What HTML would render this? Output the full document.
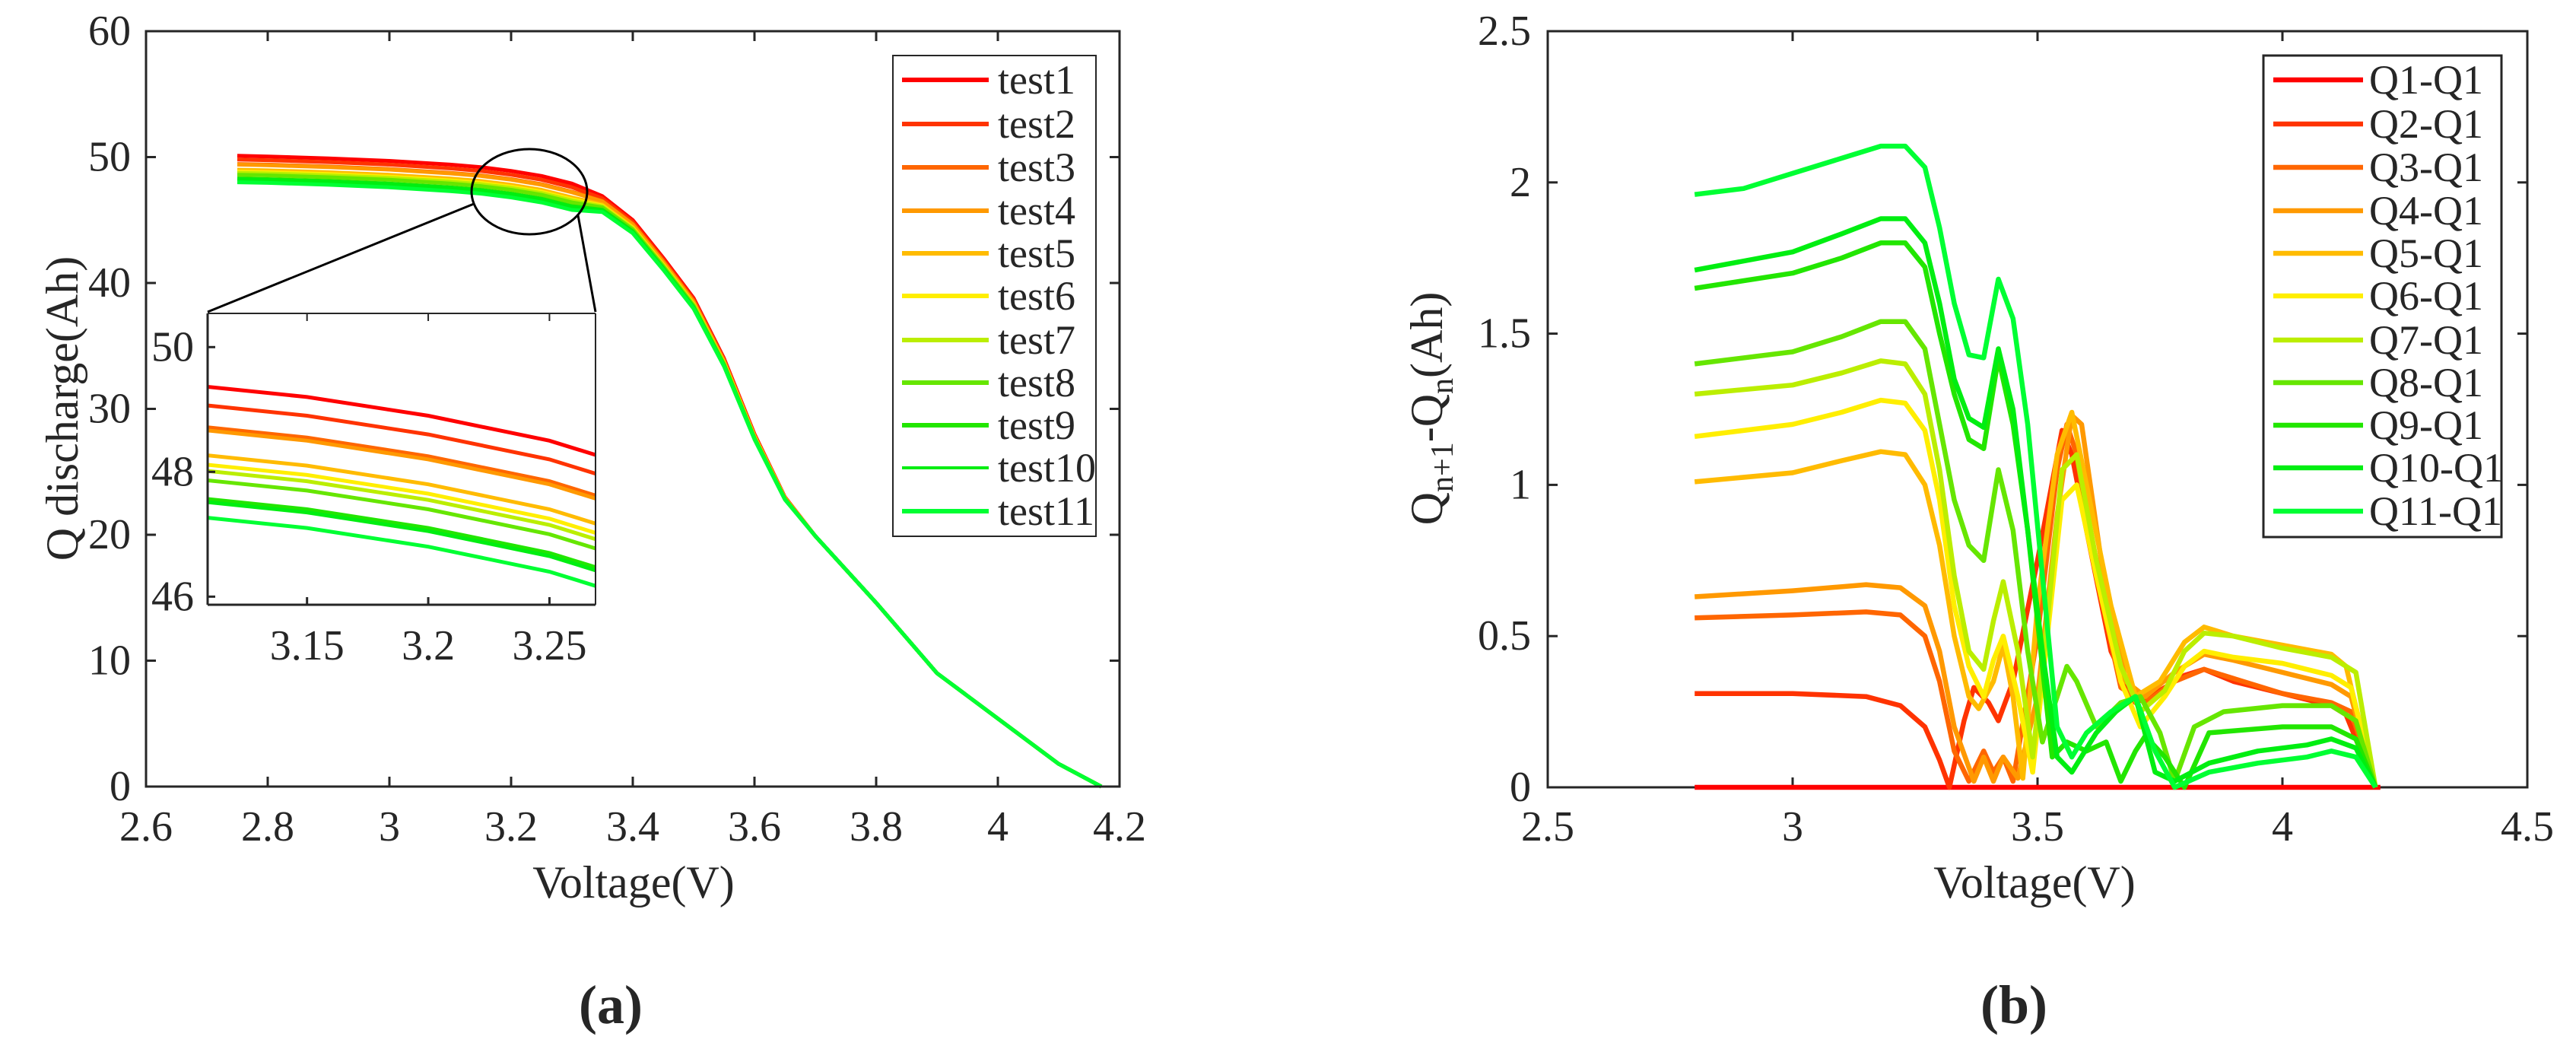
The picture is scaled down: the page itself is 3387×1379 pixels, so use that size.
<!DOCTYPE html>
<html><head><meta charset="utf-8"><style>
html,body{margin:0;padding:0;background:#fff;width:3387px;height:1379px;overflow:hidden}
svg{display:block;overflow:hidden}
text{font-family:"Liberation Serif",serif;fill:#262626}
</style></head><body>
<svg id="fig" width="3387" height="1379" viewBox="0 0 3387 1379"></svg>
<script>
// ---- Chart (a) data ----
const voltA = [2.75,2.8,2.9,3.0,3.1,3.15,3.2,3.25,3.3,3.35,3.4,3.45,3.5,3.55,3.6,3.65,3.7,3.8,3.9,4.0,4.1,4.17];
const test1 = [50.1,50.05,49.9,49.7,49.4,49.2,48.9,48.5,47.9,46.9,45.0,42.0,38.8,34.0,28.0,23.0,19.9,14.6,9.0,5.4,1.8,0];
const test2 = [49.8,49.75,49.6,49.4,49.1,48.9,48.6,48.2,47.6,46.72,44.85,41.87,38.68,33.91,27.94,22.97,19.9,14.6,9.0,5.4,1.8,0];
const test3 = [49.45,49.4,49.25,49.05,48.75,48.55,48.25,47.85,47.25,46.51,44.68,41.71,38.54,33.81,27.87,22.94,19.9,14.6,9.0,5.4,1.8,0];
const test4 = [49.4,49.35,49.2,49.0,48.7,48.5,48.2,47.8,47.2,46.48,44.65,41.69,38.52,33.79,27.86,22.93,19.9,14.6,9.0,5.4,1.8,0];
const test5 = [49.0,48.95,48.8,48.6,48.3,48.1,47.8,47.4,46.8,46.24,44.45,41.51,38.36,33.67,27.78,22.89,19.9,14.6,9.0,5.4,1.8,0];
const test6 = [48.85,48.8,48.65,48.45,48.15,47.95,47.65,47.25,46.65,46.15,44.38,41.44,38.3,33.63,27.75,22.88,19.9,14.6,9.0,5.4,1.8,0];
const test7 = [48.75,48.7,48.55,48.35,48.05,47.85,47.55,47.15,46.55,46.09,44.33,41.39,38.26,33.6,27.73,22.87,19.9,14.6,9.0,5.4,1.8,0];
const test8 = [48.6,48.55,48.4,48.2,47.9,47.7,47.4,47.0,46.4,46.0,44.25,41.33,38.2,33.55,27.7,22.85,19.9,14.6,9.0,5.4,1.8,0];
const test9 = [48.3,48.25,48.1,47.9,47.6,47.4,47.1,46.7,46.1,45.82,44.1,41.19,38.08,33.46,27.64,22.82,19.9,14.6,9.0,5.4,1.8,0];
const test10 = [48.25,48.2,48.05,47.85,47.55,47.35,47.05,46.65,46.05,45.79,44.08,41.17,38.06,33.45,27.63,22.82,19.9,14.6,9.0,5.4,1.8,0];
const test11 = [48.0,47.95,47.8,47.6,47.3,47.1,46.8,46.4,45.8,45.64,43.95,41.06,37.96,33.37,27.58,22.79,19.9,14.6,9.0,5.4,1.8,0];
const namesA = ["test1","test2","test3","test4","test5","test6","test7","test8","test9","test10","test11"];
const xTicksA = [2.6,2.8,3,3.2,3.4,3.6,3.8,4,4.2];
const yTicksA = [0,10,20,30,40,50,60];
const xTicksInset = [3.15,3.2,3.25];
const yTicksInset = [46,48,50];

// ---- Chart (b) data ----
const vQ1 = [2.8,4.2];
const q1 = [0,0];
const vQ2 = [2.8,3.0,3.15,3.22,3.27,3.3,3.32,3.35,3.37,3.4,3.42,3.45,3.5,3.55,3.57,3.6,3.65,3.7,3.75,3.8,3.84,3.9,4.0,4.1,4.13,4.19];
const q2 = [0.31,0.31,0.30,0.27,0.2,0.09,0.0,0.22,0.33,0.28,0.22,0.35,0.75,1.18,1.1,0.85,0.45,0.28,0.32,0.37,0.39,0.35,0.31,0.27,0.24,0];
const vQ3 = [2.8,3.0,3.15,3.22,3.27,3.3,3.33,3.36,3.39,3.41,3.43,3.45,3.5,3.54,3.56,3.58,3.62,3.67,3.72,3.78,3.84,3.9,4.0,4.1,4.14,4.19];
const q3 = [0.56,0.57,0.58,0.57,0.5,0.35,0.12,0.02,0.12,0.05,0.1,0.02,0.5,1.05,1.2,1.1,0.7,0.33,0.28,0.35,0.39,0.36,0.31,0.28,0.25,0];
const vQ4 = [2.8,3.0,3.15,3.22,3.27,3.3,3.33,3.37,3.39,3.41,3.43,3.46,3.5,3.54,3.57,3.59,3.63,3.68,3.72,3.78,3.84,3.9,4.0,4.1,4.14,4.19];
const q4 = [0.63,0.65,0.67,0.66,0.6,0.45,0.2,0.02,0.1,0.02,0.1,0.03,0.3,0.9,1.23,1.2,0.75,0.35,0.3,0.38,0.44,0.42,0.38,0.34,0.3,0];
const vQ5 = [2.8,3.0,3.1,3.18,3.23,3.27,3.3,3.33,3.36,3.38,3.41,3.43,3.45,3.47,3.5,3.54,3.57,3.6,3.65,3.7,3.75,3.8,3.84,3.9,4.0,4.1,4.13,4.19];
const q5 = [1.01,1.04,1.08,1.11,1.1,1.0,0.8,0.5,0.3,0.26,0.35,0.47,0.3,0.03,0.6,1.1,1.24,1.0,0.6,0.3,0.35,0.48,0.53,0.5,0.47,0.44,0.4,0];
const vQ6 = [2.8,3.0,3.1,3.18,3.23,3.27,3.3,3.33,3.36,3.39,3.41,3.43,3.46,3.49,3.52,3.55,3.58,3.62,3.67,3.71,3.76,3.8,3.84,3.9,4.0,4.1,4.14,4.19];
const q6 = [1.16,1.2,1.24,1.28,1.27,1.18,0.95,0.6,0.4,0.3,0.42,0.5,0.3,0.05,0.5,0.95,1.0,0.7,0.35,0.2,0.3,0.4,0.45,0.43,0.41,0.37,0.33,0];
const vQ7 = [2.8,3.0,3.1,3.18,3.23,3.27,3.3,3.33,3.36,3.39,3.41,3.43,3.46,3.49,3.52,3.55,3.58,3.62,3.67,3.71,3.76,3.8,3.84,3.9,4.0,4.1,4.15,4.19];
const q7 = [1.3,1.33,1.37,1.41,1.4,1.3,1.05,0.7,0.45,0.39,0.55,0.68,0.45,0.1,0.55,1.05,1.1,0.75,0.4,0.25,0.32,0.45,0.51,0.5,0.46,0.43,0.38,0];
const vQ8 = [2.8,3.0,3.1,3.18,3.23,3.27,3.3,3.33,3.36,3.39,3.42,3.45,3.48,3.51,3.54,3.56,3.58,3.62,3.67,3.71,3.75,3.78,3.82,3.88,4.0,4.1,4.15,4.19];
const q8 = [1.4,1.44,1.49,1.54,1.54,1.45,1.2,0.95,0.8,0.75,1.05,0.85,0.45,0.15,0.3,0.4,0.35,0.2,0.28,0.3,0.18,0.02,0.2,0.25,0.27,0.27,0.22,0];
const vQ9 = [2.8,3.0,3.1,3.18,3.23,3.27,3.3,3.33,3.36,3.39,3.42,3.45,3.48,3.51,3.53,3.56,3.6,3.64,3.67,3.7,3.72,3.76,3.8,3.85,4.0,4.1,4.15,4.19];
const q9 = [1.65,1.7,1.75,1.8,1.8,1.72,1.5,1.3,1.15,1.12,1.42,1.2,0.85,0.4,0.1,0.15,0.12,0.15,0.02,0.12,0.17,0.1,0.0,0.18,0.2,0.2,0.16,0];
const vQ10 = [2.8,3.0,3.1,3.18,3.23,3.27,3.3,3.33,3.36,3.39,3.42,3.45,3.48,3.51,3.54,3.57,3.62,3.66,3.7,3.74,3.78,3.85,3.95,4.05,4.1,4.15,4.19];
const q10 = [1.71,1.77,1.83,1.88,1.88,1.8,1.6,1.35,1.22,1.19,1.45,1.25,0.85,0.45,0.1,0.05,0.18,0.25,0.3,0.05,0.02,0.08,0.12,0.14,0.16,0.13,0];
const vQ11 = [2.8,2.9,3.0,3.1,3.18,3.23,3.27,3.3,3.33,3.36,3.39,3.42,3.45,3.48,3.51,3.54,3.57,3.6,3.65,3.7,3.74,3.78,3.85,3.95,4.05,4.1,4.15,4.19];
const q11 = [1.96,1.98,2.03,2.08,2.12,2.12,2.05,1.85,1.6,1.43,1.42,1.68,1.55,1.2,0.7,0.2,0.1,0.18,0.25,0.3,0.12,0.0,0.05,0.08,0.1,0.12,0.1,0];
const namesB = ["Q1-Q1","Q2-Q1","Q3-Q1","Q4-Q1","Q5-Q1","Q6-Q1","Q7-Q1","Q8-Q1","Q9-Q1","Q10-Q1","Q11-Q1"];
const xTicksB = [2.5,3,3.5,4,4.5];
const yTicksB = [0,0.5,1,1.5,2,2.5];

const colors = ["#ff0000","#ff3300","#ff6600","#ff9900","#ffbb00","#ffee00","#bbee00","#66e600","#22e600","#00ee11","#00ff33"];

const NS = "http://www.w3.org/2000/svg";
const svg = document.getElementById('fig');
function mk(tag, attrs, parent){const e=document.createElementNS(NS,tag);for(const k in attrs)e.setAttribute(k,attrs[k]);(parent||svg).appendChild(e);return e;}
function lin(d0,d1,r0,r1){return v=>r0+(v-d0)*(r1-r0)/(d1-d0);}
function pts(xs,ys,sx,sy){return xs.map((x,i)=>sx(x).toFixed(1)+","+sy(ys[i]).toFixed(1)).join(" ");}

function axesBox(g,L,T,R,B,sx,sy,xt,yt,tick,fs,xlY,ylX){
  const frame = mk('rect',{x:L,y:T,width:R-L,height:B-T,fill:'none',stroke:'#262626','stroke-width':3},g);
  
  
  xt.forEach(v=>{
    const x=sx(v);
    mk('line',{x1:x,y1:B,x2:x,y2:B-tick,stroke:'#262626','stroke-width':3},g);
    mk('line',{x1:x,y1:T,x2:x,y2:T+tick,stroke:'#262626','stroke-width':3},g);
    const t=mk('text',{x:x,y:xlY,'text-anchor':'middle','font-size':fs},g);
    t.textContent=String(v);
    
    
  });
  yt.forEach(v=>{
    const y=sy(v);
    mk('line',{x1:L,y1:y,x2:L+tick,y2:y,stroke:'#262626','stroke-width':3},g);
    mk('line',{x1:R,y1:y,x2:R-tick,y2:y,stroke:'#262626','stroke-width':3},g);
    const t=mk('text',{x:ylX,y:y+18,'text-anchor':'end','font-size':fs},g);
    t.textContent=String(v);
    
    
  });
}

// ===== Chart (a) =====
const gA = mk('g',{});


const AL=192,AT=41,AR=1472,AB=1034;
const sxA=lin(2.6,4.2,AL,AR), syA=lin(0,60,AB,AT);
const seriesA=[test1,test2,test3,test4,test5,test6,test7,test8,test9,test10,test11];
for(let i=0;i<seriesA.length;i++){
  const p=mk('polyline',{points:pts(voltA,seriesA[i],sxA,syA),fill:'none',stroke:colors[i],'stroke-width':5,'stroke-linejoin':'round'},gA);
  
  
}
axesBox(gA,AL,AT,AR,AB,sxA,syA,xTicksA,yTicksA,13,56,1105,172);
const circ=mk('ellipse',{cx:696,cy:252,rx:76,ry:56,fill:'none',stroke:'#000','stroke-width':3},gA);


mk('line',{x1:623,y1:268,x2:273,y2:410,stroke:'#000','stroke-width':3},gA);
mk('line',{x1:760,y1:283,x2:783,y2:410,stroke:'#000','stroke-width':3},gA);
// inset
const IL=273,IT=412,IR=783,IB=795;
const sxI=lin(3.109,3.269,IL,IR), syI=lin(45.87,50.54,IB,IT);
const gI=mk('g',{},gA);


mk('rect',{x:IL,y:IT,width:IR-IL,height:IB-IT,fill:'#fff'},gI);
mk('clipPath',{id:'clipI'},gI);
mk('rect',{x:IL,y:IT,width:IR-IL,height:IB-IT},document.getElementById('clipI'));
const gIc=mk('g',{'clip-path':'url(#clipI)'},gI);
for(let i=0;i<seriesA.length;i++){
  const p=mk('polyline',{points:pts(voltA,seriesA[i],sxI,syI),fill:'none',stroke:colors[i],'stroke-width':5},gIc);
  
  
}
mk('line',{x1:IL,y1:IT,x2:IL,y2:IB,stroke:'#262626','stroke-width':3},gI);
mk('line',{x1:IL,y1:IB,x2:IR,y2:IB,stroke:'#262626','stroke-width':3},gI);
mk('line',{x1:IL,y1:IT,x2:IR,y2:IT,stroke:'#262626','stroke-width':2},gI);
mk('line',{x1:IR,y1:IT,x2:IR,y2:IB,stroke:'#262626','stroke-width':2},gI);
xTicksInset.forEach(v=>{const x=sxI(v);mk('line',{x1:x,y1:IB,x2:x,y2:IB-10,stroke:'#262626','stroke-width':3},gI);mk('line',{x1:x,y1:IT,x2:x,y2:IT+10,stroke:'#262626','stroke-width':2},gI);
  const t=mk('text',{x:x,y:867,'text-anchor':'middle','font-size':56},gI);t.textContent=String(v);
  
  });
yTicksInset.forEach(v=>{const y=syI(v);mk('line',{x1:IL,y1:y,x2:IL+10,y2:y,stroke:'#262626','stroke-width':3},gI);
  const t=mk('text',{x:255,y:y+18,'text-anchor':'end','font-size':56},gI);t.textContent=String(v);
  
  });
// legend A
const legA=mk('g',{},gA);


mk('rect',{x:1174,y:73,width:267,height:632,fill:'#fff',stroke:'#262626','stroke-width':2},legA);
const rowsY=[105,163,220,277,333,389,447,503,559,615,672];
namesA.forEach((n,i)=>{
  const e=mk('g',{},legA);
  
  
  mk('line',{x1:1186,y1:rowsY[i],x2:1300,y2:rowsY[i],stroke:colors[i],'stroke-width':i==9?4:6},e);
  const t=mk('text',{x:1312,y:rowsY[i]+18,'font-size':54},e);t.textContent=n;
});
let t=mk('text',{x:0,y:0,'text-anchor':'middle','font-size':60,transform:'translate(102,537) rotate(-90)'},gA);
t.textContent='Q discharge(Ah)';


t=mk('text',{x:833,y:1180,'text-anchor':'middle','font-size':60},gA);
t.textContent='Voltage(V)';


t=mk('text',{x:803,y:1345,'text-anchor':'middle','font-size':72,'font-weight':'bold'},gA);
t.textContent='(a)';



// ===== Chart (b) =====
const gB=mk('g',{});


const BL=2035,BT=41,BR=3323,BB=1035;
const sxB=lin(2.5,4.5,BL,BR), syB=lin(0,2.5,BB,BT);
const vB=[vQ1,vQ2,vQ3,vQ4,vQ5,vQ6,vQ7,vQ8,vQ9,vQ10,vQ11];
const qB=[q1,q2,q3,q4,q5,q6,q7,q8,q9,q10,q11];
axesBox(gB,BL,BT,BR,BB,sxB,syB,xTicksB,yTicksB,13,56,1105,2013);
for(let i=0;i<qB.length;i++){
  const p=mk('polyline',{points:pts(vB[i],qB[i],sxB,syB),fill:'none',stroke:colors[i],'stroke-width':6.5,'stroke-linejoin':'round'},gB);
  
  
}
const legB=mk('g',{},gB);


mk('rect',{x:2976,y:73,width:313,height:633,fill:'#fff',stroke:'#262626','stroke-width':3},legB);
namesB.forEach((n,i)=>{
  const e=mk('g',{},legB);
  
  
  mk('line',{x1:2989,y1:rowsY[i],x2:3107,y2:rowsY[i],stroke:colors[i],'stroke-width':6.5},e);
  const tt=mk('text',{x:3115,y:rowsY[i]+18,'font-size':54},e);tt.textContent=n;
});
t=mk('text',{x:0,y:0,'text-anchor':'middle','font-size':60,transform:'translate(1896,537) rotate(-90)'},gB);
t.innerHTML='Q<tspan font-size="42" dy="14">n+1</tspan><tspan dy="-14">-Q</tspan><tspan font-size="42" dy="14">n</tspan><tspan dy="-14">(Ah)</tspan>';


t=mk('text',{x:2675,y:1180,'text-anchor':'middle','font-size':60},gB);
t.textContent='Voltage(V)';


t=mk('text',{x:2648,y:1345,'text-anchor':'middle','font-size':72,'font-weight':'bold'},gB);
t.textContent='(b)';


</script>
</body></html>
